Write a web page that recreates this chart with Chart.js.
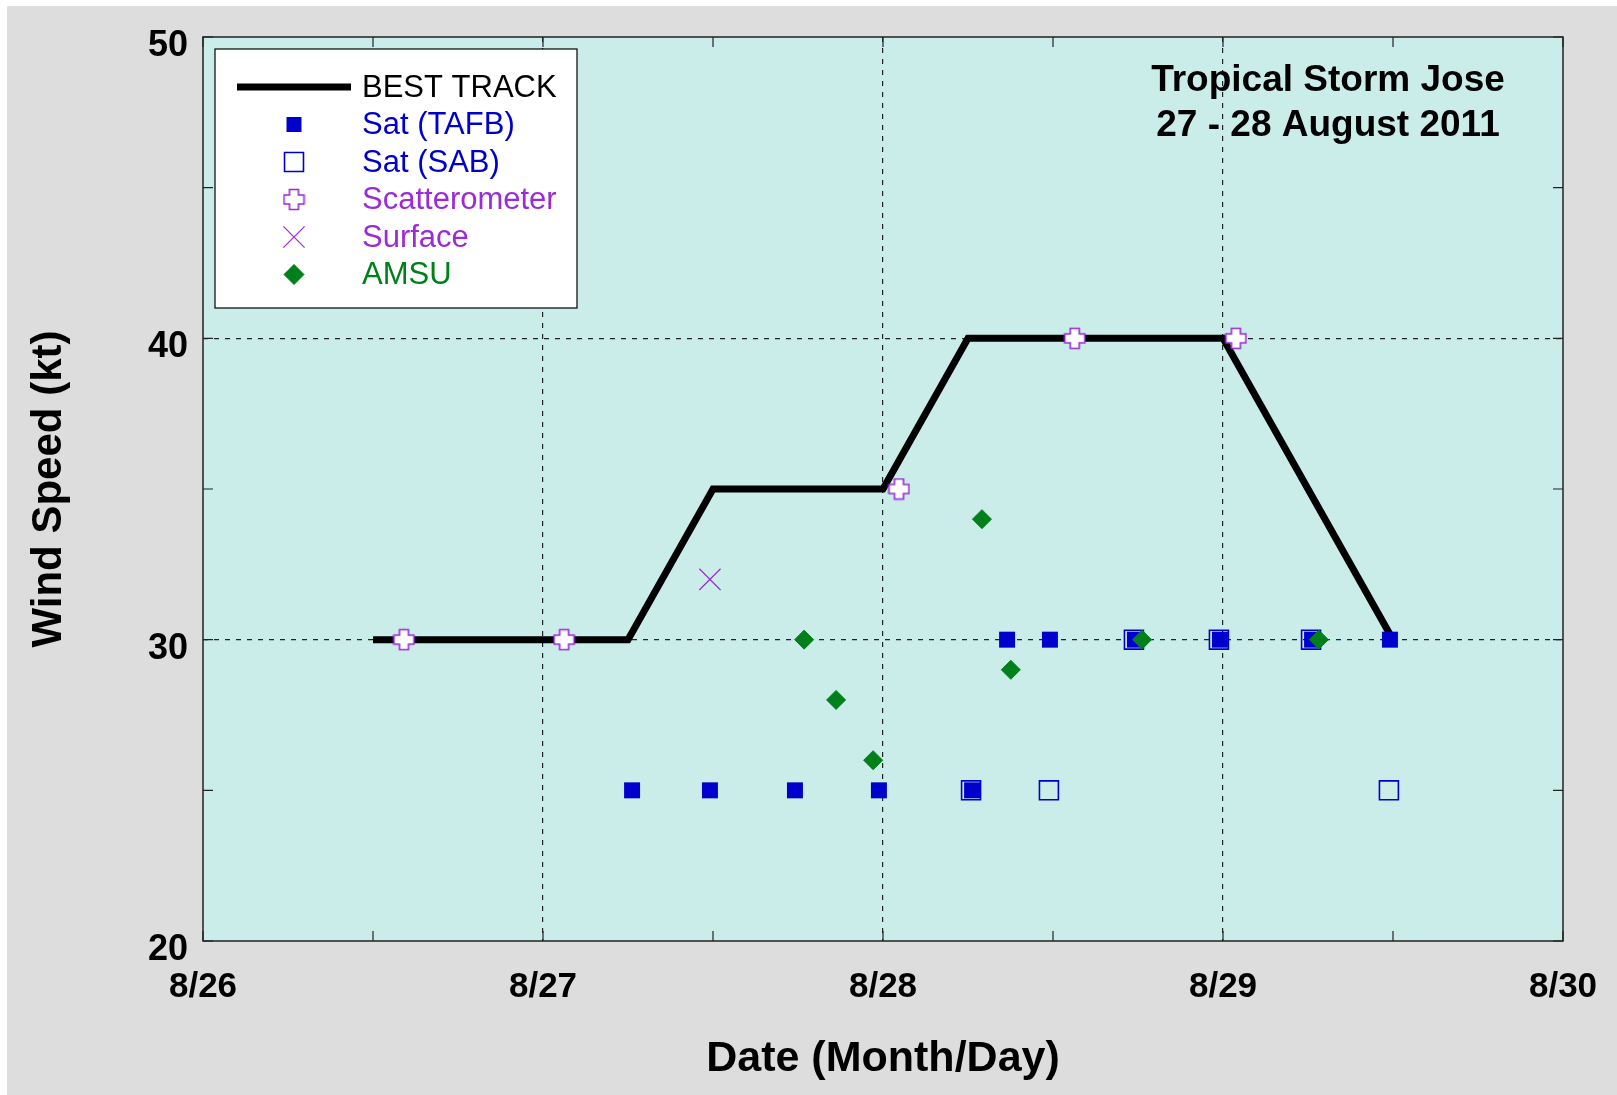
<!DOCTYPE html>
<html>
<head>
<meta charset="utf-8">
<script src="https://cdn.jsdelivr.net/npm/chart.js@4/dist/chart.umd.min.js"></script>
<style>
  html, body { margin: 0; padding: 0; background: #ffffff; }
  canvas { display: block; }
</style>
</head>
<body>
<canvas id="c" width="1617" height="1095"></canvas>
<script>
// ---------- data (x = days after 8/26 00Z) ----------
const xTickLabels = ['8/26', '8/27', '8/28', '8/29', '8/30'];
const titleLines = ['Tropical Storm Jose', '27 - 28 August 2011'];

const bestTrackX = [0.5, 0.75, 1.0, 1.25, 1.5, 1.75, 2.0, 2.25, 2.5, 2.75, 3.0, 3.25, 3.5];
const bestTrackY = [30, 30, 30, 30, 35, 35, 35, 40, 40, 40, 40, 35, 30];

const tafbX = [1.262, 1.491, 1.741, 1.988, 2.262, 2.365, 2.491, 2.741, 2.991, 3.262, 3.491];
const tafbY = [25, 25, 25, 25, 25, 30, 30, 30, 30, 30, 30];

const sabX = [2.259, 2.488, 2.738, 2.988, 3.259, 3.488];
const sabY = [25, 25, 30, 30, 30, 25];

const scatX = [0.591, 1.062, 2.047, 2.564, 3.038];
const scatY = [30, 30, 35, 40, 40];

const surfX = [1.491];
const surfY = [32];

const amsuX = [1.768, 1.862, 1.971, 2.291, 2.376, 2.762, 3.282];
const amsuY = [30, 28, 26, 34, 29, 30, 30];

const pts = (xs, ys) => xs.map((x, i) => ({ x: x, y: ys[i] }));

// ---------- styles ----------
const BLUE = '#0000CC';
const PURPLE = '#9A2BD6';
const GREEN = '#00801A';

function makePlus(size) {
  const c = document.createElement('canvas');
  c.width = size; c.height = size;
  const g = c.getContext('2d');
  const m = size / 2, L = size / 2 - 1.5, a = 4.5;
  g.beginPath();
  g.moveTo(m - a, m - L); g.lineTo(m + a, m - L); g.lineTo(m + a, m - a);
  g.lineTo(m + L, m - a); g.lineTo(m + L, m + a); g.lineTo(m + a, m + a);
  g.lineTo(m + a, m + L); g.lineTo(m - a, m + L); g.lineTo(m - a, m + a);
  g.lineTo(m - L, m + a); g.lineTo(m - L, m - a); g.lineTo(m - a, m - a);
  g.closePath();
  g.fillStyle = '#ffffff'; g.fill();
  g.lineWidth = 1.6; g.strokeStyle = PURPLE; g.stroke();
  return c;
}
const plusImg = makePlus(23);

const legendTextColors = ['#000000', BLUE, BLUE, PURPLE, PURPLE, GREEN];

// ---------- plugins ----------
const bgPlugin = {
  id: 'bg',
  beforeDraw(chart) {
    const { ctx, chartArea: a, width, height } = chart;
    ctx.save();
    ctx.fillStyle = '#ffffff';
    ctx.fillRect(0, 0, width, height);
    ctx.fillStyle = '#DCDDDC';
    ctx.fillRect(7, 6, width - 7, height - 6);
    ctx.fillStyle = '#CBEDE9';
    ctx.fillRect(a.left, a.top, a.right - a.left, a.bottom - a.top);
    ctx.restore();
  }
};

const framePlugin = {
  id: 'frame',
  beforeDatasetsDraw(chart) {
    const { ctx, chartArea: a, scales } = chart;
    ctx.save();
    ctx.strokeStyle = '#222222';
    ctx.lineWidth = 1.2;
    ctx.setLineDash([]);
    ctx.beginPath();
    scales.x.ticks.forEach(t => {
      const px = scales.x.getPixelForValue(t.value);
      ctx.moveTo(px, a.bottom); ctx.lineTo(px, a.bottom - 10);
      ctx.moveTo(px, a.top); ctx.lineTo(px, a.top + 10);
    });
    scales.y.ticks.forEach(t => {
      const py = scales.y.getPixelForValue(t.value);
      ctx.moveTo(a.left, py); ctx.lineTo(a.left + 10, py);
      ctx.moveTo(a.right, py); ctx.lineTo(a.right - 10, py);
    });
    ctx.stroke();
    ctx.lineWidth = 1.5;
    ctx.strokeRect(a.left, a.top, a.right - a.left, a.bottom - a.top);
    ctx.restore();
  }
};

const annotPlugin = {
  id: 'annot',
  afterDatasetsDraw(chart) {
    const { ctx } = chart;
    ctx.save();
    ctx.fillStyle = '#000000';
    ctx.font = 'bold 37px "Liberation Sans", Arial, sans-serif';
    ctx.textAlign = 'center';
    ctx.textBaseline = 'middle';
    ctx.fillText(titleLines[0], 1328, 81);
    ctx.fillText(titleLines[1], 1328, 126);
    ctx.restore();
  }
};

const legendPlugin = {
  id: 'customLegend',
  afterDatasetsDraw(chart) {
    const { ctx } = chart;
    const bx = 215, by = 49, bw = 362, bh = 259;
    ctx.save();
    ctx.fillStyle = '#ffffff';
    ctx.fillRect(bx, by, bw, bh);
    ctx.strokeStyle = '#000000';
    ctx.lineWidth = 1.2;
    ctx.strokeRect(bx, by, bw, bh);
    const rows = [87, 124.5, 162, 199.5, 237, 274.5];
    const mx = 294;
    chart.data.datasets.forEach((ds, i) => {
      const y = rows[i];
      ctx.save();
      if (ds.showLine) {
        ctx.strokeStyle = ds.borderColor;
        ctx.lineWidth = 7;
        ctx.beginPath(); ctx.moveTo(237, y); ctx.lineTo(351, y); ctx.stroke();
      } else {
        ctx.fillStyle = ds.backgroundColor;
        ctx.strokeStyle = ds.borderColor;
        ctx.lineWidth = ds.borderWidth;
        Chart.helpers.drawPoint(ctx, {
          pointStyle: ds.pointStyle,
          radius: ds.legendRadius,
          borderWidth: ds.borderWidth,
          rotation: 0
        }, mx, y);
      }
      ctx.restore();
      ctx.fillStyle = legendTextColors[i];
      ctx.font = '31px "Liberation Sans", Arial, sans-serif';
      ctx.textAlign = 'left';
      ctx.textBaseline = 'middle';
      ctx.fillText(ds.label, 362, y + 1);
    });
    ctx.restore();
  }
};

// ---------- chart ----------
const gridColorX = c => {
  const v = c.tick && c.tick.value;
  return (Number.isInteger(v) && v > 0 && v < 4) ? '#222222' : 'rgba(0,0,0,0)';
};
const gridColorY = c => {
  const v = c.tick && c.tick.value;
  return (v % 10 === 0 && v > 20 && v < 50) ? '#222222' : 'rgba(0,0,0,0)';
};

const chart = new Chart(document.getElementById('c'), {
  type: 'scatter',
  data: {
    datasets: [
      {
        label: 'BEST TRACK', data: pts(bestTrackX, bestTrackY), showLine: true,
        borderColor: '#000000', backgroundColor: '#000000', borderWidth: 7,
        pointRadius: 0, borderCapStyle: 'butt', borderJoinStyle: 'miter', order: 6
      },
      {
        label: 'Sat (TAFB)', data: pts(tafbX, tafbY), pointStyle: 'rect',
        pointRadius: 11.3, legendRadius: 10.6, backgroundColor: BLUE, borderColor: BLUE,
        borderWidth: 0, order: 4
      },
      {
        label: 'Sat (SAB)', data: pts(sabX, sabY), pointStyle: 'rect',
        pointRadius: 13.4, legendRadius: 13.4, backgroundColor: 'rgba(0,0,0,0)', borderColor: BLUE,
        borderWidth: 1.6, order: 5
      },
      {
        label: 'Scatterometer', data: pts(scatX, scatY), pointStyle: plusImg,
        pointRadius: 11, legendRadius: 11, backgroundColor: '#ffffff', borderColor: PURPLE,
        borderWidth: 1.5, order: 3
      },
      {
        label: 'Surface', data: pts(surfX, surfY), pointStyle: 'crossRot',
        pointRadius: 15, legendRadius: 15, backgroundColor: PURPLE, borderColor: PURPLE,
        borderWidth: 1.2, order: 2
      },
      {
        label: 'AMSU', data: pts(amsuX, amsuY), pointStyle: 'rectRot',
        pointRadius: 9.5, legendRadius: 10, backgroundColor: GREEN, borderColor: GREEN,
        borderWidth: 1, order: 1
      }
    ]
  },
  options: {
    responsive: false,
    devicePixelRatio: 1,
    animation: false,
    events: [],
    layout: { padding: { top: 37, right: 54, left: 0, bottom: 0 } },
    plugins: { legend: { display: false }, tooltip: { enabled: false } },
    scales: {
      x: {
        type: 'linear', min: 0, max: 4,
        afterFit: s => { s.height = 154; s.paddingLeft = 0; s.paddingRight = 0; },
        ticks: {
          stepSize: 0.5, autoSkip: false, maxRotation: 0, padding: 25,
          color: '#000000',
          font: { family: '"Liberation Sans", Arial, sans-serif', size: 35, weight: 'bold' },
          callback: v => Number.isInteger(v) ? xTickLabels[v] : ''
        },
        grid: { color: gridColorX, lineWidth: 1.2, drawTicks: false },
        border: { display: false, dash: [5, 6] },
        title: {
          display: true, text: 'Date (Month/Day)', color: '#000000',
          font: { family: '"Liberation Sans", Arial, sans-serif', size: 43, weight: 'bold' },
          padding: { top: 0, bottom: 10 }
        }
      },
      y: {
        type: 'linear', min: 20, max: 50,
        afterFit: s => { s.width = 203; s.paddingTop = 0; s.paddingBottom = 0; },
        ticks: {
          stepSize: 5, autoSkip: false, padding: 15, labelOffset: 9,
          color: '#000000',
          font: { family: '"Liberation Sans", Arial, sans-serif', size: 36, weight: 'bold' },
          callback: v => (v % 10 === 0) ? String(v) : ''
        },
        grid: { color: gridColorY, lineWidth: 1.2, drawTicks: false },
        border: { display: false, dash: [5, 6] },
        title: {
          display: true, text: 'Wind Speed (kt)', color: '#000000',
          font: { family: '"Liberation Sans", Arial, sans-serif', size: 42, weight: 'bold' },
          padding: { top: 24, bottom: 0 }
        }
      }
    }
  },
  plugins: [bgPlugin, framePlugin, annotPlugin, legendPlugin]
});
</script>
</body>
</html>
